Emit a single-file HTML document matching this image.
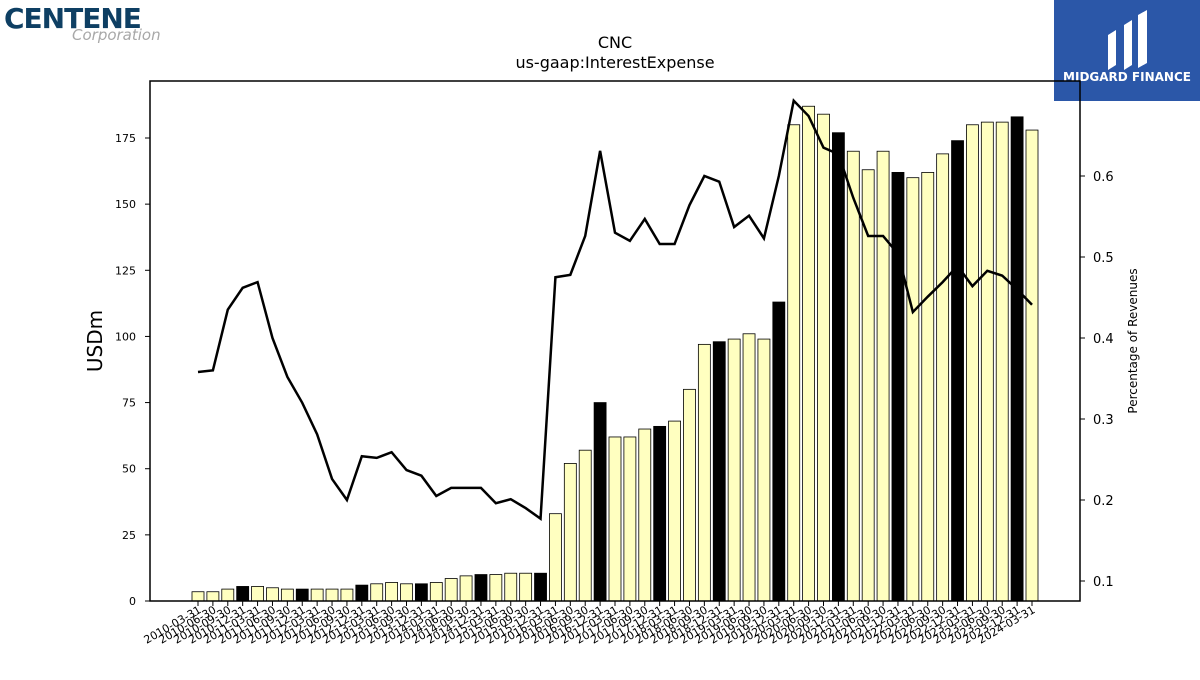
<!DOCTYPE html>
<html><head><meta charset="utf-8"><style>
body{margin:0;background:#fff;font-family:"Liberation Sans",sans-serif;}
svg text{font-family:"DejaVu Sans","Liberation Sans",sans-serif;}
</style></head><body>
<svg id="c" width="1200" height="675" xmlns="http://www.w3.org/2000/svg">
<g>
<text x="4" y="28" font-size="28" font-weight="bold" fill="#0e3f63" font-family="Liberation Sans" letter-spacing="-1">CENTENE</text>
<text x="72" y="40" font-size="15" font-style="italic" fill="#a8a8a8" font-family="Liberation Serif">Corporation</text>
</g>
<g>
<rect x="1054" y="0" width="146" height="101" fill="#2b57a8"/>
<path d="M1108 70 L1108 35 L1116 30 L1116 65 Z M1124 70 L1124 25 L1132 20 L1132 65 Z M1138 68 L1138 15 L1147 10 L1147 63 Z" fill="#fff"/>
<text x="1127" y="81" font-size="12" font-weight="bold" fill="#fff" text-anchor="middle" font-family="Liberation Sans">MIDGARD FINANCE</text>
</g>
<text x="615" y="48" font-size="16" text-anchor="middle">CNC</text>
<text x="615" y="68" font-size="16" text-anchor="middle">us-gaap:InterestExpense</text>
<g id="plot"></g>
<rect x="150" y="81" width="930" height="520" fill="none" stroke="#000" stroke-width="1.5"/>
<text transform="translate(102,341) rotate(-90)" font-size="20" text-anchor="middle">USDm</text>
<text transform="translate(1137,341) rotate(-90)" font-size="12" text-anchor="middle">Percentage of Revenues</text>
</svg>
<script>
const quarters=["03-31","06-30","09-30","12-31"];
const categories=[];for(let y=2010;y<=2024;y++)for(const q of quarters){if(y===2024&&q!=="03-31")break;categories.push(y+"-"+q);}
const interestExpense=[3.5,3.5,4.5,5.5,5.5,5,4.5,4.5,4.5,4.5,4.5,6,6.5,7,6.5,6.5,7,8.5,9.5,10,10,10.5,10.5,10.5,33,52,57,75,62,62,65,66,68,80,97,98,99,101,99,113,180,187,184,177,170,163,170,162,160,162,169,174,180,181,181,183,178];
const pctRevenue=[0.358,0.360,0.435,0.462,0.469,0.400,0.352,0.320,0.281,0.226,0.200,0.254,0.252,0.259,0.237,0.230,0.205,0.215,0.215,0.215,0.196,0.201,0.190,0.177,0.475,0.478,0.526,0.631,0.530,0.520,0.547,0.516,0.516,0.564,0.600,0.593,0.537,0.551,0.523,0.600,0.693,0.674,0.635,0.627,0.573,0.526,0.526,0.504,0.432,0.451,0.469,0.489,0.464,0.483,0.477,0.460,0.441];
const leftTicks=[0,25,50,75,100,125,150,175];
const rightTicks=[0.1,0.2,0.3,0.4,0.5,0.6];
const NS="http://www.w3.org/2000/svg",g=document.getElementById("plot");
const X=i=>198+i*(1032-198)/(categories.length-1);
const Y=v=>601-v*(463/175);
const Y2=v=>581-(v-0.1)*810;
function mk(t,a){const e=document.createElementNS(NS,t);for(const k in a)e.setAttribute(k,a[k]);g.appendChild(e);return e;}
interestExpense.forEach((v,i)=>{const b=mk("rect",{x:X(i)-6,y:Y(v),width:12,height:Y(0)-Y(v),fill:categories[i].endsWith("12-31")?"#000":"#ffffc0",stroke:"#000","stroke-width":0.8});

});
categories.forEach((c,i)=>{const t=mk("line",{x1:X(i),x2:X(i),y1:601,y2:606,stroke:"#000"});


const l=mk("text",{transform:`translate(${X(i)+4},612) rotate(-30)`,"font-size":11,"text-anchor":"end"});l.textContent=c;

});
leftTicks.forEach(v=>{const t=mk("line",{x1:145,x2:150,y1:Y(v),y2:Y(v),stroke:"#000"});


const l=mk("text",{x:136,y:Y(v)+4,"font-size":11,"text-anchor":"end"});l.textContent=v;

});
rightTicks.forEach(v=>{const t=mk("line",{x1:1080,x2:1085,y1:Y2(v),y2:Y2(v),stroke:"#000"});


const l=mk("text",{x:1093,y:Y2(v)+5,"font-size":13});l.textContent=v.toFixed(1);

});
const ln=mk("polyline",{points:pctRevenue.map((v,i)=>X(i)+","+Y2(v)).join(" "),fill:"none",stroke:"#000","stroke-width":2.5});


</script>
</body></html>
